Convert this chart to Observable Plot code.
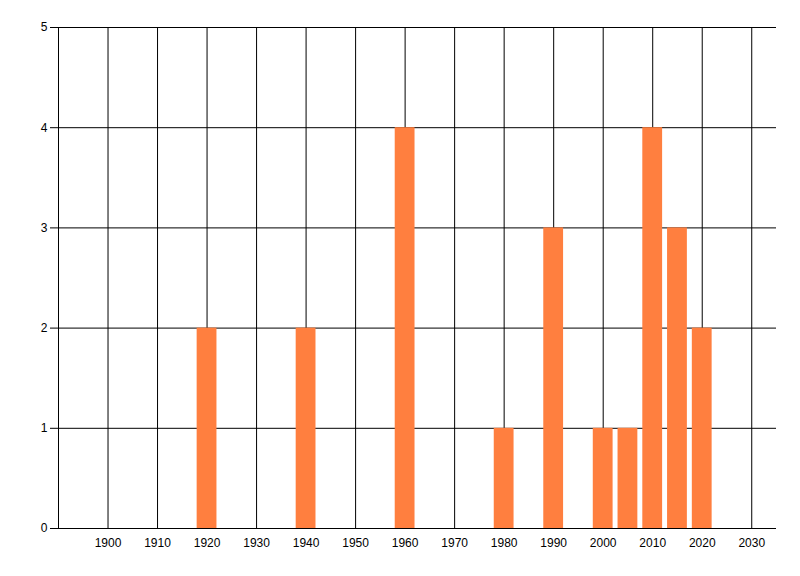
<!DOCTYPE html>
<html>
<head>
<meta charset="utf-8">
<script src="https://cdn.jsdelivr.net/npm/d3@7"></script>
<script src="https://cdn.jsdelivr.net/npm/@observablehq/plot@0.6"></script>
<style>
  html, body { margin: 0; padding: 0; background: #fff; }
  #chart svg { display: block; }
</style>
</head>
<body>
<div id="chart"></div>
<script>
// bar data: year and count
const years = [1920, 1940, 1960, 1980, 1990, 2000, 2005, 2010, 2015, 2020];
const counts = [2, 2, 4, 1, 3, 1, 1, 4, 3, 2];
// axis ticks
const xTicks = [1900, 1910, 1920, 1930, 1940, 1950, 1960, 1970, 1980, 1990, 2000, 2010, 2020, 2030];
const yTicks = [0, 1, 2, 3, 4, 5];

const bars = years.map((y, i) => ({year: y, count: counts[i]}));

const chart = Plot.plot({
  width: 800,
  height: 576,
  marginLeft: 58,
  marginTop: 27,
  marginBottom: 48,
  marginRight: 24,
  style: {fontFamily: "'Liberation Sans', Arial, sans-serif", fontSize: "12px", color: "#000", background: "#fff"},
  x: {domain: [1890, 2035]},
  y: {domain: [0, 5]},
  marks: [
    Plot.gridX(xTicks, {stroke: "#000", strokeOpacity: 1, strokeWidth: 1}),
    Plot.gridY(yTicks, {stroke: "#000", strokeOpacity: 1, strokeWidth: 1}),
    Plot.rectY(bars, {
      x1: d => d.year - 2,
      x2: d => d.year + 2,
      y: "count",
      fill: "#ff7f3f"
    }),
    Plot.ruleX([1890], {stroke: "#000"}),
    Plot.ruleY([0], {stroke: "#000"}),
    Plot.axisY(yTicks, {tickSize: 8, tickPadding: 3, label: null, tickFormat: "d", stroke: "#000"}),
    Plot.axisX(xTicks, {tickSize: 0, tickPadding: 10, label: null, tickFormat: "d"})
  ]
});

d3.select('#chart').append(() => chart);
</script>
</body>
</html>
